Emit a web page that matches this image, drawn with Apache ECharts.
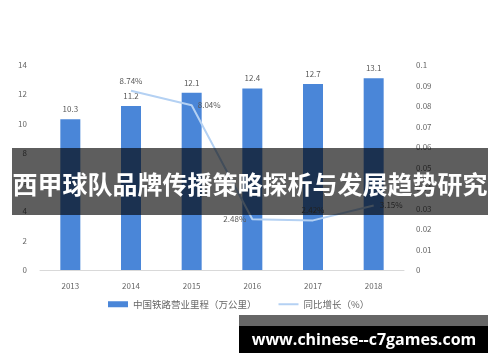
<!DOCTYPE html>
<html><head><meta charset="utf-8">
<script src="https://cdn.jsdelivr.net/npm/echarts@6/dist/echarts.min.js"></script>
<style>html,body{margin:0;padding:0;background:#fff}#c{width:500px;height:362px}</style>
</head><body><div id="c"></div>
<script>
const categories = ['2013','2014','2015','2016','2017','2018'];
const mileage = [10.3, 11.2, 12.1, 12.4, 12.7, 13.1];
const growth = [null, 0.0874, 0.0804, 0.0248, 0.0242, 0.0315];
const growthLabelPos = ['top','top','right','left','top','right'];
const seriesNames = ['中国铁路营业里程（万公里）', '同比增长（%）'];
const titleText = '西甲球队品牌传播策略探析与发展趋势研究';
const siteText = 'www.chinese--c7games.com';

const FONT = '"Noto Sans CJK SC", "Noto Sans", sans-serif';
const chart = echarts.init(document.getElementById('c'));
chart.setOption({
  animation: false,
  textStyle: { fontFamily: FONT },
  grid: { left: 40, right: 96, top: 65, bottom: 92 },
  legend: {
    bottom: 48, left: 103, itemGap: 22, itemWidth: 20, itemHeight: 6,
    textStyle: { color: '#666', fontSize: 9.5, fontFamily: FONT },
    data: [{ name: seriesNames[0], icon: 'rect' },
           { name: seriesNames[1], icon: 'path://M0,0L20,0L20,2L0,2Z' }]
  },
  xAxis: {
    type: 'category', data: categories,
    axisLine: { lineStyle: { color: '#d9d9d9' } },
    axisTick: { show: false },
    axisLabel: { color: '#666', fontSize: 8, margin: 12 }
  },
  yAxis: [{
    type: 'value', min: 0, max: 14, interval: 2,
    splitLine: { show: false }, axisLine: { show: false }, axisTick: { show: false },
    axisLabel: { color: '#666', fontSize: 8, margin: 13 }
  }, {
    type: 'value', min: 0, max: 0.1, interval: 0.01,
    splitLine: { show: false }, axisLine: { show: false }, axisTick: { show: false },
    axisLabel: { color: '#666', fontSize: 8, margin: 12, align: 'left' }
  }],
  series: [{
    name: seriesNames[0], type: 'bar', data: mileage, barWidth: 20,
    itemStyle: { color: '#4a86d8' },
    label: { show: true, position: 'top', color: '#595959', fontSize: 8, distance: 6 }
  }, {
    name: seriesNames[1], type: 'line', yAxisIndex: 1, z: 3,
    data: growth.map((v, i) => ({ value: v, label: { position: growthLabelPos[i] } })),
    showSymbol: true, symbol: 'circle', symbolSize: 0.1,
    lineStyle: { color: '#b4d1f3', width: 2 },
    itemStyle: { color: '#b4d1f3' },
    label: { show: true, color: '#595959', fontSize: 8, distance: 6,
      formatter: p => p.value == null ? '' : (p.value * 100).toFixed(2) + '%' }
  }],
  graphic: [
    { type: 'rect', z: 100, shape: { x: 12, y: 148, width: 476, height: 67 },
      style: { fill: 'rgba(0,0,0,0.63)' } },
    { type: 'text', z: 101, x: 250, y: 184,
      style: { text: titleText, fill: '#fff', font: 'bold 25px "Noto Sans CJK SC"',
        textAlign: 'center', textVerticalAlign: 'middle' } },
    { type: 'rect', z: 100, shape: { x: 239, y: 315, width: 249, height: 11 },
      style: { fill: '#666' } },
    { type: 'rect', z: 100, shape: { x: 239, y: 326, width: 249, height: 27 },
      style: { fill: '#000' } },
    { type: 'text', z: 101, x: 364, y: 340,
      style: { text: siteText, fill: '#fff', font: 'bold 16px "Open Sans", "DejaVu Sans"',
        textAlign: 'center', textVerticalAlign: 'middle' } }
  ]
});
</script></body></html>
